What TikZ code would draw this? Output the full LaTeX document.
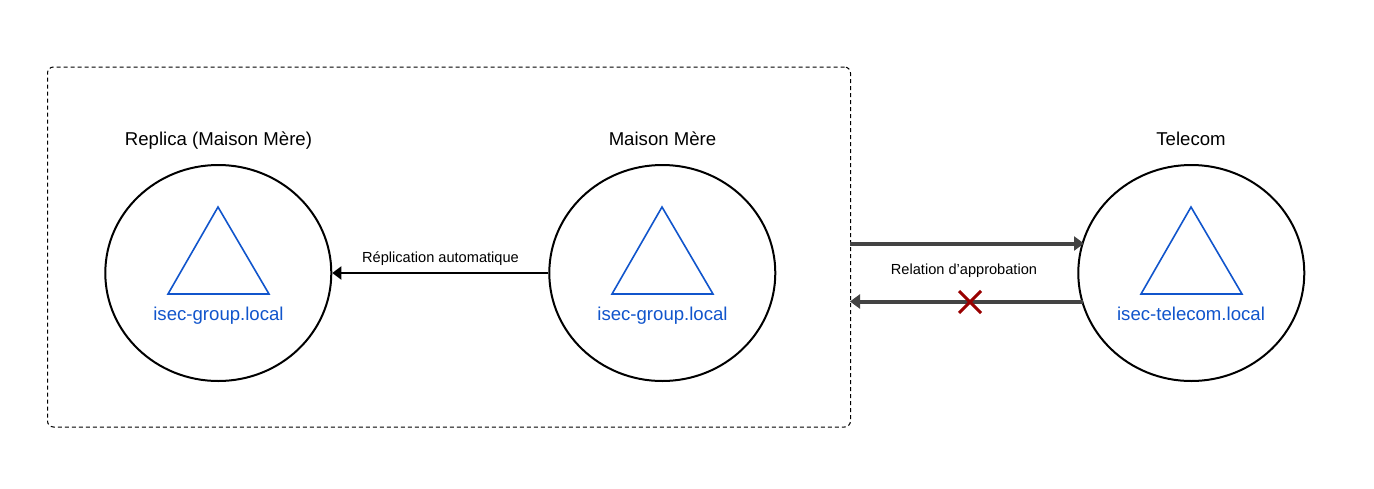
\documentclass[tikz,border=0pt]{standalone}
\usepackage{fontspec}
\setmainfont{Liberation Sans}
\usetikzlibrary{arrows.meta,shapes.geometric}
\definecolor{bluedom}{HTML}{1155CC}
\definecolor{darkline}{HTML}{434343}
\definecolor{crossred}{HTML}{990000}
\tikzset{
  x=1pt,y=-1pt,
  domcircle/.style={ellipse,draw=black,line width=2pt,minimum width=226pt,minimum height=216pt,inner sep=0pt},
  foresttri/.style={draw=bluedom,line width=1.6pt,line join=miter},
  domlabel/.style={text=bluedom,font=\fontsize{18.6}{20}\selectfont,inner sep=0pt,anchor=base},
  titlelabel/.style={text=black,font=\fontsize{18.6}{20}\selectfont,inner sep=0pt,anchor=base},
  smalllabel/.style={text=black,font=\fontsize{14.6}{16}\selectfont,inner sep=0pt,anchor=base},
  thickarrow/.style={draw=darkline,line width=4pt,-{Triangle[length=10pt,width=14pt]}},
  thinarrow/.style={draw=black,line width=2pt,-{Triangle[length=9pt,width=13pt]}},
  crossline/.style={draw=crossred,line width=3pt},
}
\begin{document}
\begin{tikzpicture}
\useasboundingbox (0,0) rectangle (1374,488);
\fill[white] (0,0) rectangle (1374,488);
\node[draw=black,line width=1pt,dash pattern=on 4pt off 3pt,rounded corners=6pt,minimum width=803pt,minimum height=360pt,inner sep=0pt] (box) at (449,247) {};
\node[domcircle] (rep) at (218.3,273) {};
\node[domcircle] (mm) at (662.3,273) {};
\node[domcircle] (tel) at (1191.3,273) {};
\node[titlelabel] (treplica) at (218.5,145.5) {Replica (Maison Mère)};
\node[titlelabel] (tmm) at (662.5,145.5) {Maison Mère};
\node[titlelabel] (ttel) at (1191,145.5) {Telecom};
\draw[foresttri] (218,207) -- (269,294) -- (168,294) -- cycle;
\draw[foresttri] (662,207) -- (713,294) -- (612,294) -- cycle;
\draw[foresttri] (1191,207) -- (1242,294) -- (1141,294) -- cycle;
\node[domlabel] (d1) at (218.5,320) {isec-group.local};
\node[domlabel] (d2) at (662.5,320) {isec-group.local};
\node[domlabel] (d3) at (1191,320) {isec-telecom.local};
\draw[thinarrow] (mm.west) -- (rep.east);
\node[smalllabel] (lrep) at (440.5,262.5) {Réplication automatique};
\coordinate (a1) at (850,243.5);
\coordinate (a2) at (1084,243.5);
\coordinate (b1) at (1083,301.5);
\coordinate (b2) at (850,301.5);
\draw[thickarrow] (a1) -- (a2);
\draw[thickarrow] (b1) -- (b2);
\node[smalllabel] (lrel) at (964,274.5) {Relation d’approbation};
\draw[crossline] (959,291) -- (981,313);
\draw[crossline] (981,291) -- (959,313);
\end{tikzpicture}
\end{document}
